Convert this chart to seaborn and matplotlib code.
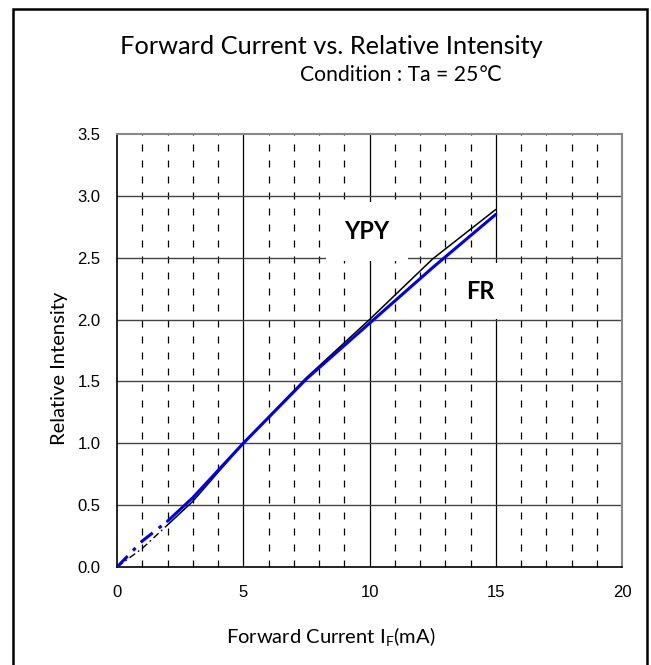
import matplotlib
matplotlib.use('Agg')
import matplotlib.pyplot as plt
import seaborn as sns
import numpy as np
from matplotlib.patches import Rectangle

# YPY (black) - dash-dot part below 2 mA, solid above
ypy_x_low = [0, 1, 2]
ypy_y_low = [0, 0.15, 0.34]
ypy_x = [2, 3, 5, 7.5, 10, 12.5, 15]
ypy_y = [0.34, 0.53, 1.0, 1.53, 2.0, 2.49, 2.89]

# FR (blue)
fr_x_low = [0, 1, 2]
fr_y_low = [0, 0.21, 0.37]
fr_x = [2, 3, 5, 7.5, 10, 12.5, 15]
fr_y = [0.37, 0.56, 1.0, 1.52, 1.97, 2.42, 2.85]

x_ticks = [0, 5, 10, 15, 20]
y_ticks = [0.0, 0.5, 1.0, 1.5, 2.0, 2.5, 3.0, 3.5]

sns.set_style("white")
plt.rcParams['font.family'] = ['Lato', 'DejaVu Sans']
plt.rcParams['text.color'] = 'black'
plt.rcParams['axes.labelcolor'] = 'black'
plt.rcParams['xtick.color'] = 'black'
plt.rcParams['ytick.color'] = 'black'

fig = plt.figure(figsize=(6.51, 6.65), dpi=100)
ax = fig.add_axes([117/651, (665-567)/665, (622-117)/651, (567-134)/665])

# grid: solid every 5 mA, dashed every 1 mA, solid every 0.5
for v in np.arange(1, 20):
    if v % 5 == 0:
        ax.axvline(v, color='black', lw=0.9, zorder=1)
    else:
        ax.axvline(v, color='black', lw=0.9, ls=(0, (5.6, 7.2)), zorder=1)
for h in y_ticks[1:-1]:
    ax.axhline(h, color='#444444', lw=1.0, zorder=1)

dash = (0, (5, 2.5, 1.2, 2.5))
sns.lineplot(x=ypy_x_low, y=ypy_y_low, color='black', lw=1.0, ax=ax, zorder=3)
ax.lines[-1].set_linestyle(dash)
sns.lineplot(x=ypy_x, y=ypy_y, color='black', lw=1.1, ax=ax, zorder=3)
sns.lineplot(x=fr_x_low, y=fr_y_low, color='#0000ee', lw=2.2, ax=ax, zorder=4)
ax.lines[-1].set_linestyle(dash)
sns.lineplot(x=fr_x, y=fr_y, color='#0000ee', lw=2.2, ax=ax, zorder=4)

ax.text(9.9, 2.71, 'YPY', fontsize=17, fontweight='bold', ha='center', va='center',
        bbox=dict(facecolor='white', edgecolor='none', pad=13), zorder=2)
ax.text(14.38, 2.23, 'FR', fontsize=17, fontweight='bold', ha='center', va='center',
        bbox=dict(facecolor='white', edgecolor='none', pad=12), zorder=2)

ax.set_xlim(0, 20)
ax.set_ylim(0, 3.5)
ax.set_xticks(x_ticks)
ax.set_yticks(y_ticks)
tick_font = ['Liberation Sans Narrow', 'Liberation Sans']
ax.set_xticklabels([str(t) for t in x_ticks], family=tick_font, fontsize=12)
ax.set_yticklabels([f'{t:.1f}' for t in y_ticks], family=tick_font, fontsize=12)
ax.set_xticks(np.arange(1, 20), minor=True)
ax.tick_params(axis='x', which='minor', direction='in', length=3, bottom=True, width=0.6)
ax.tick_params(axis='x', which='major', length=0, pad=13)
ax.tick_params(axis='y', which='major', length=0, pad=12)

for s in ['left', 'bottom']:
    ax.spines[s].set_color('black')
    ax.spines[s].set_linewidth(1.2)
for s in ['top', 'right']:
    ax.spines[s].set_color('#888888')
    ax.spines[s].set_linewidth(1.5)

ax.set_xlabel(r'Forward Current I$_\mathregular{F}$(mA)', fontsize=14.5)
ax.set_ylabel('Relative Intensity', fontsize=14.5)
ax.xaxis.set_label_coords((331-117)/505, (567-637)/433)
ax.yaxis.set_label_coords((60-117)/505, (567-368)/433)
ax.xaxis.label.set_va('center')
ax.yaxis.label.set_va('center')

fig.text(331/651, 1 - 47/665, 'Forward Current vs. Relative Intensity', fontsize=18.3,
         ha='center', va='center')
fig.text(502/651, 1 - 75/665, 'Condition : Ta = 25\u2103', fontsize=15.2,
         ha='right', va='center')

fig.patches.append(Rectangle((13/651, -0.05), (647-13)/651, 1 - 9/665 + 0.05,
                             transform=fig.transFigure, fill=False,
                             edgecolor='black', lw=1.8))

fig.savefig('out.png', dpi=100)
